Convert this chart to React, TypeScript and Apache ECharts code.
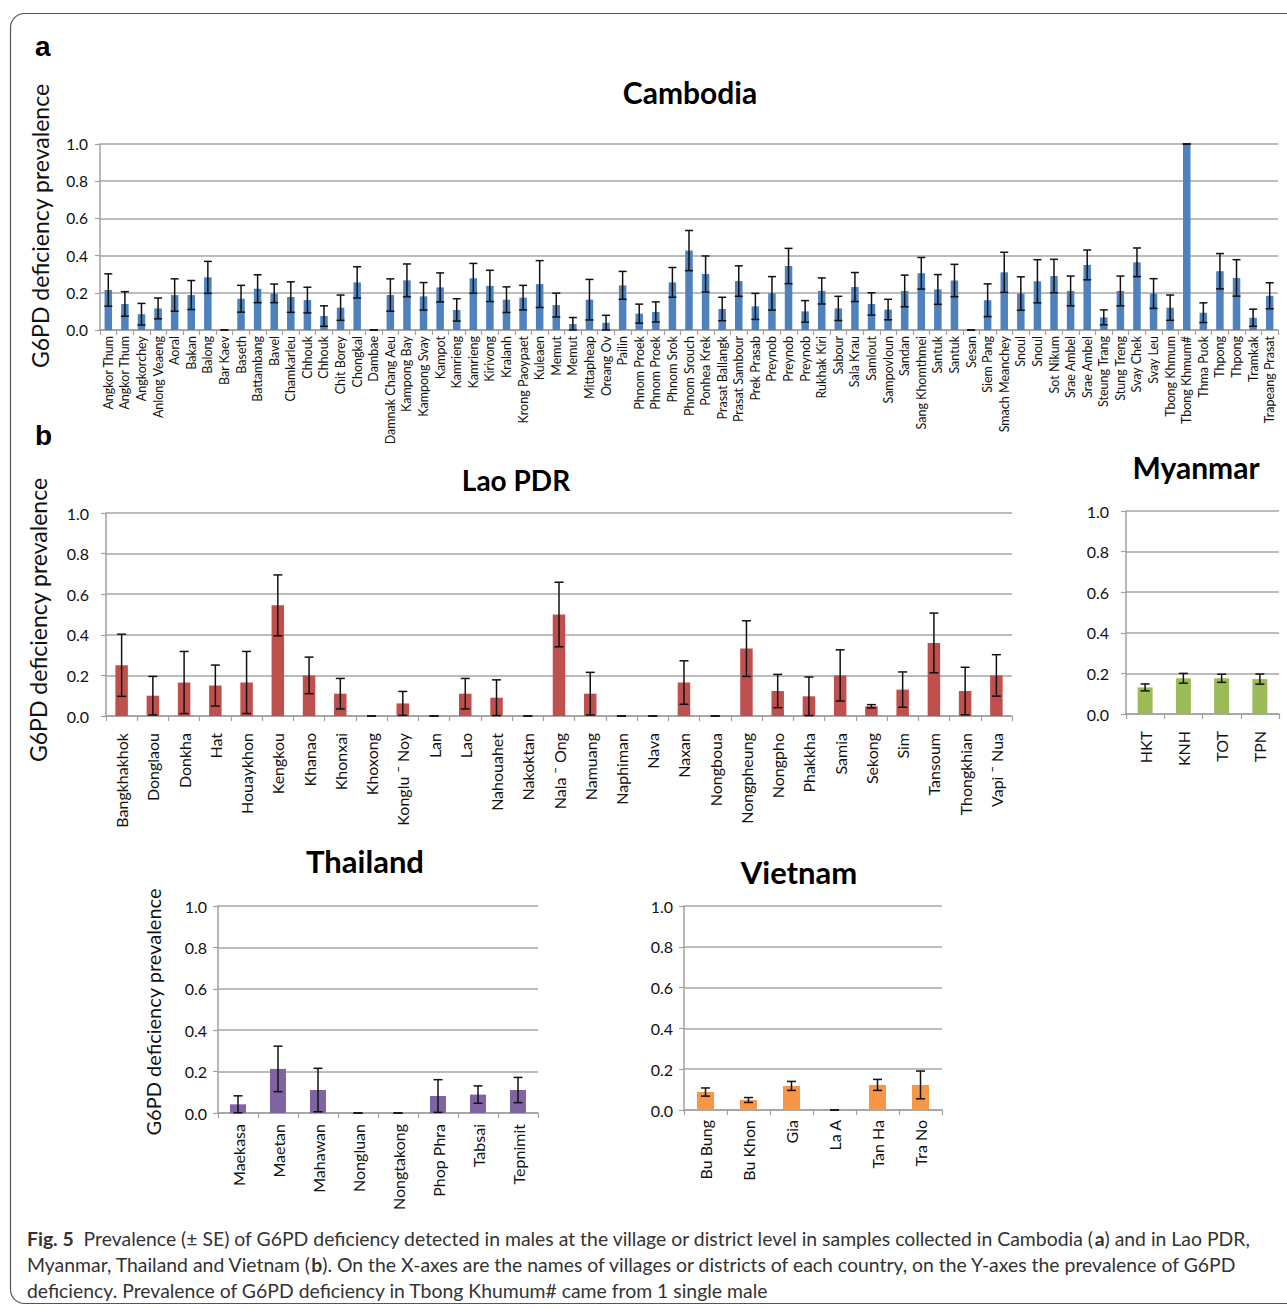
import React, { useEffect, useRef } from "react";
import * as echarts from "echarts";

// ---------------- DATA ----------------
const yTicks = [0, 0.2, 0.4, 0.6, 0.8, 1.0];

const cambodiaNames = [
  "Angkor Thum", "Angkor Thum", "Angkorchey", "Anlong Veaeng", "Aoral", "Bakan", "Balong", "Bar Kaev",
  "Baseth", "Battambang", "Bavel", "Chamkarleu", "Chhouk", "Chhouk", "Chit Borey", "Chongkal", "Dambae",
  "Damnak Chang Aeu", "Kampong Bay", "Kampong Svay", "Kampot", "Kamrieng", "Kamrieng", "Kirivong",
  "Kralanh", "Krong Paoypaet", "Kuleaen", "Memut", "Memut", "Mittapheap", "Oreang Ov", "Pailin",
  "Phnom Proek", "Phnom Proek", "Phnom Srok", "Phnom Srouch", "Ponhea Krek", "Prasat Ballangk",
  "Prasat Sambour", "Prek Prasab", "Preynob", "Preynob", "Preynob", "Rukhak Kiri", "Sabour", "Sala Krau",
  "Samlout", "Sampovloun", "Sandan", "Sang Khomthmei", "Santuk", "Santuk", "Sesan", "Siem Pang",
  "Smach Meanchey", "Snoul", "Snoul", "Sot Nikum", "Srae Ambel", "Srae Ambel", "Steung Trang",
  "Stung Treng", "Svay Chek", "Svay Leu", "Tbong Khmum", "Tbong Khmum#", "Thma Puok", "Thpong", "Thpong",
  "Tramkak", "Trapeang Prasat",
];
const cambodiaValues = [
  0.215, 0.14, 0.085, 0.116, 0.188, 0.188, 0.283, 0, 0.168, 0.222, 0.197, 0.177, 0.161, 0.075, 0.12,
  0.256, 0, 0.188, 0.267, 0.181, 0.229, 0.108, 0.278, 0.237, 0.163, 0.174, 0.247, 0.134, 0.032, 0.163,
  0.039, 0.24, 0.088, 0.097, 0.256, 0.427, 0.301, 0.113, 0.263, 0.127, 0.197, 0.344, 0.1, 0.21, 0.116,
  0.231, 0.14, 0.11, 0.21, 0.305, 0.218, 0.266, 0, 0.16, 0.31, 0.196, 0.262, 0.29, 0.21, 0.35, 0.068,
  0.21, 0.364, 0.196, 0.12, 1.0, 0.093, 0.316, 0.28, 0.066, 0.184,
];
const cambodiaSE = [
  0.087, 0.066, 0.058, 0.056, 0.087, 0.078, 0.086, 0, 0.072, 0.075, 0.05, 0.082, 0.069, 0.055, 0.068,
  0.084, 0, 0.087, 0.088, 0.074, 0.078, 0.06, 0.08, 0.084, 0.069, 0.066, 0.126, 0.064, 0.035, 0.109,
  0.04, 0.075, 0.051, 0.054, 0.08, 0.108, 0.097, 0.063, 0.082, 0.07, 0.09, 0.095, 0.058, 0.07, 0.065,
  0.078, 0.06, 0.055, 0.085, 0.085, 0.08, 0.087, 0, 0.088, 0.108, 0.09, 0.116, 0.09, 0.08, 0.08, 0.04,
  0.08, 0.077, 0.08, 0.068, 0, 0.053, 0.095, 0.098, 0.046, 0.07,
];

const laoNames = [
  "Bangkhakhok", "Donglaou", "Donkha", "Hat", "Houaykhon", "Kengkou", "Khanao", "Khonxai", "Khoxong",
  "Konglu ¯ Noy", "Lan", "Lao", "Nahouahet", "Nakoktan", "Nala ¯ Ong", "Namuang", "Naphiman", "Nava",
  "Naxan", "Nongboua", "Nongpheung", "Nongpho", "Phakkha", "Samia", "Sekong", "Sim", "Tansoum",
  "Thongkhian", "Vapi ¯ Nua",
];
const laoValues = [
  0.25, 0.1, 0.165, 0.15, 0.165, 0.545, 0.2, 0.11, 0, 0.062, 0, 0.11, 0.09, 0, 0.5, 0.11, 0, 0, 0.165, 0,
  0.332, 0.123, 0.097, 0.2, 0.048, 0.13, 0.36, 0.123, 0.2,
];
const laoSE = [
  0.153, 0.095, 0.153, 0.101, 0.153, 0.15, 0.09, 0.075, 0, 0.059, 0, 0.075, 0.088, 0, 0.159, 0.105, 0, 0,
  0.107, 0, 0.137, 0.082, 0.095, 0.126, 0.008, 0.087, 0.147, 0.117, 0.102,
];

const myanmarNames = ["HKT", "KNH", "TOT", "TPN"];
const myanmarValues = [0.131, 0.176, 0.176, 0.172];
const myanmarSE = [0.017, 0.024, 0.02, 0.025];

const thailandNames = ["Maekasa", "Maetan", "Mahawan", "Nongluan", "Nongtakong", "Phop Phra", "Tabsai", "Tepnimit"];
const thailandValues = [0.042, 0.213, 0.111, 0, 0, 0.082, 0.089, 0.111];
const thailandSE = [0.041, 0.11, 0.105, 0, 0, 0.079, 0.042, 0.061];

const vietnamNames = ["Bu Bung", "Bu Khon", "Gia", "La A", "Tan Ha", "Tra No"];
const vietnamValues = [0.088, 0.049, 0.118, 0, 0.123, 0.123];
const vietnamSE = [0.02, 0.012, 0.022, 0, 0.027, 0.068];

const yAxisTitle = "G6PD deficiency prevalence";

// ---------------- LAYOUT ----------------
const FONT = "Lato";

const panels = [
  {
    title: "Cambodia", names: cambodiaNames, values: cambodiaValues, se: cambodiaSE, color: "#4f81bd",
    grid: { left: 100, top: 144, width: 1178, height: 186 }, barWidth: 7.5, cap: 4,
    xFont: 12.5, xMargin: 6, yFont: 15.5, yMargin: 12, xPad: [2, 0, 0, 0],
    titleSize: 30, tx: 690, ty: 92,
  },
  {
    title: "Lao PDR", names: laoNames, values: laoValues, se: laoSE, color: "#c0504d",
    grid: { left: 106, top: 513, width: 906, height: 203 }, barWidth: 12.5, cap: 4.5,
    xFont: 16, xMargin: 17, yFont: 16, yMargin: 17, xPad: [18, 0, 0, 0],
    titleSize: 28, tx: 516, ty: 480,
  },
  {
    title: "Myanmar", names: myanmarNames, values: myanmarValues, se: myanmarSE, color: "#9bbb59",
    grid: { left: 1126, top: 511, width: 153, height: 203 }, barWidth: 15, cap: 4.5,
    xFont: 16, xMargin: 17, yFont: 16, yMargin: 17, xPad: [4, 0, 0, 0],
    titleSize: 30, tx: 1196, ty: 467,
  },
  {
    title: "Thailand", names: thailandNames, values: thailandValues, se: thailandSE, color: "#8064a2",
    grid: { left: 218, top: 906, width: 320, height: 207 }, barWidth: 16, cap: 4.5,
    xFont: 16, xMargin: 11, yFont: 16, yMargin: 11, xPad: [4, 0, 0, 0],
    titleSize: 31, tx: 365, ty: 861,
  },
  {
    title: "Vietnam", names: vietnamNames, values: vietnamValues, se: vietnamSE, color: "#f79646",
    grid: { left: 684, top: 906, width: 258, height: 204 }, barWidth: 17, cap: 4.5,
    xFont: 16, xMargin: 10, yFont: 16, yMargin: 11, xPad: [4, 0, 0, 0],
    titleSize: 31, tx: 799, ty: 872,
  },
];

function buildOption() {
  const grid: any[] = [];
  const xAxis: any[] = [];
  const yAxis: any[] = [];
  const series: any[] = [];
  const axisGray = "#a0a0a0";

  panels.forEach((p, k) => {
    grid.push({ ...p.grid, containLabel: false, outerBoundsMode: "none" });
    xAxis.push({
      type: "category",
      gridIndex: k,
      data: p.names,
      boundaryGap: true,
      axisLine: { show: true, lineStyle: { color: axisGray, width: 1.5 } },
      axisTick: { show: true, length: 5, interval: 0, lineStyle: { color: axisGray, width: 1.2 } },
      axisLabel: {
        interval: 0, rotate: 90, fontFamily: FONT, fontSize: p.xFont, color: "#111", margin: p.xMargin,
        padding: p.xPad,
      },
      splitLine: { show: false },
    });
    yAxis.push({
      type: "value",
      gridIndex: k,
      min: yTicks[0],
      max: yTicks[yTicks.length - 1],
      interval: 0.2,
      axisLine: { show: true, lineStyle: { color: axisGray, width: 1.5 } },
      axisTick: { show: true, length: 5, lineStyle: { color: axisGray, width: 1.2 } },
      axisLabel: {
        fontFamily: FONT, fontSize: p.yFont, color: "#111", margin: p.yMargin,
        formatter: (v: number) => v.toFixed(1),
      },
      splitLine: { show: true, lineStyle: { color: "#a6a6a6", width: 1.5 } },
    });
    series.push({
      type: "bar",
      xAxisIndex: k,
      yAxisIndex: k,
      data: p.values,
      barWidth: p.barWidth,
      itemStyle: { color: p.color },
      silent: true,
    });
    const cap = p.cap;
    series.push({
      type: "custom",
      xAxisIndex: k,
      yAxisIndex: k,
      silent: true,
      z: 5,
      data: p.values.map((v, i) => [i, v, p.se[i]]),
      encode: { x: 0, y: 1 },
      renderItem: (params: any, api: any) => {
        const i = api.value(0);
        const v = api.value(1);
        const e = api.value(2);
        const hi = api.coord([i, Math.min(1, v + e)]);
        const lo = api.coord([i, Math.max(0, v - e)]);
        const st = { stroke: "#111", lineWidth: 1.5 };
        return {
          type: "group",
          children: [
            { type: "line", shape: { x1: hi[0], y1: hi[1], x2: lo[0], y2: lo[1] }, style: st },
            { type: "line", shape: { x1: hi[0] - cap, y1: hi[1], x2: hi[0] + cap, y2: hi[1] }, style: st },
            { type: "line", shape: { x1: lo[0] - cap, y1: lo[1], x2: lo[0] + cap, y2: lo[1] }, style: st },
          ],
        };
      },
    });
  });

  const graphic: any[] = [];
  // outer frame
  graphic.push({
    type: "rect",
    shape: { x: 10.5, y: 13.5, width: 1300, height: 1290, r: 14 },
    style: { fill: "none", stroke: "#555", lineWidth: 1.2 },
    silent: true,
  });
  // panel letters
  graphic.push({
    type: "text", x: 35, y: 46,
    style: { text: "a", font: "bold 28px 'Liberation Sans', Arial", fill: "#000", align: "left", verticalAlign: "middle" },
  });
  graphic.push({
    type: "text", x: 35, y: 435,
    style: { text: "b", font: "bold 28px 'Liberation Sans', Arial", fill: "#000", align: "left", verticalAlign: "middle" },
  });
  // titles
  panels.forEach((p) => {
    graphic.push({
      type: "text", x: p.tx, y: p.ty,
      style: { text: p.title, font: `bold ${p.titleSize}px ${FONT}`, fill: "#000", align: "center", verticalAlign: "middle" },
    });
  });
  // y-axis titles
  const yTitles = [
    { x: 40, y: 226, size: 23 },
    { x: 38, y: 620, size: 23 },
    { x: 153, y: 1012, size: 20 },
  ];
  yTitles.forEach((t) => {
    graphic.push({
      type: "text", x: t.x, y: t.y, rotation: Math.PI / 2,
      style: { text: yAxisTitle, font: `${t.size}px ${FONT}`, fill: "#111", align: "center", verticalAlign: "middle" },
    });
  });
  // caption
  const CAP = 19.4;
  const rich = {
    b: { fontFamily: FONT, fontWeight: "bold", fontSize: CAP, color: "#000" },
    n: { fontFamily: FONT, fontSize: CAP, color: "#333" },
  };
  const capLines = [
    "{b|Fig. 5}{n|  Prevalence (± SE) of G6PD deficiency detected in males at the village or district level in samples collected in Cambodia (}{b|a}{n|) and in Lao PDR,}",
    "{n|Myanmar, Thailand and Vietnam (}{b|b}{n|). On the X-axes are the names of villages or districts of each country, on the Y-axes the prevalence of G6PD}",
    "{n|deficiency. Prevalence of G6PD deficiency in Tbong Khumum# came from 1 single male}",
  ];
  const capY = [1238, 1264, 1290];
  capLines.forEach((t, i) => {
    graphic.push({
      type: "text", x: 27, y: capY[i],
      style: { text: t, rich, font: `${CAP}px ${FONT}`, fill: "#333", align: "left", verticalAlign: "middle" },
    });
  });

  return {
    animation: false,
    backgroundColor: "#fff",
    textStyle: { fontFamily: FONT },
    grid,
    xAxis,
    yAxis,
    series,
    graphic,
  };
}

export default function App() {
  const ref = useRef<HTMLDivElement>(null);
  useEffect(() => {
    if (!ref.current) return;
    const chart = echarts.init(ref.current, null, { renderer: "svg" });
    chart.setOption(buildOption() as any);
    return () => chart.dispose();
  }, []);
  return (
    <div
      ref={ref}
      style={{ position: "absolute", left: 0, top: 0, width: 1287, height: 1309, background: "#fff" }}
    />
  );
}
